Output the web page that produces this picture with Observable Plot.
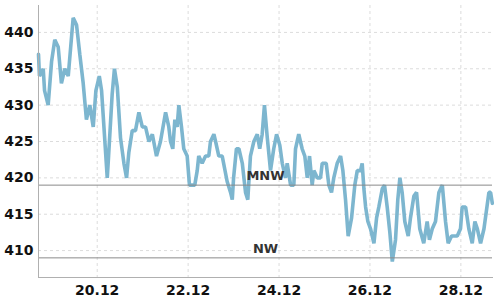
<!DOCTYPE html>
<html><head><meta charset="utf-8">
<script src="https://cdn.jsdelivr.net/npm/d3@7"></script>
<script src="https://cdn.jsdelivr.net/npm/@observablehq/plot@0.6"></script>
<style>
body{margin:0;background:#fff;}
#chart svg{display:block;font-family:"DejaVu Sans",sans-serif;}
</style>
</head><body><div id="chart"></div>
<script>
// Water level series: hours since 18.12 00:00 (UTC) and level in cm
const startDate = "2023-12-18T00:00:00Z";
const hours = [17,17.5,19.5,20.2,22.1,23.9,25.6,27.4,29.1,30.9,32.7,35.3,37.1,38.8,40.6,42.3,44.1,45.9,47.3,49.1,50.3,
  53.3,54.0,55.9,57.1,58.6,60.3,62.1,63.5,64.7,66.5,68.2,70.0,71.8,73.5,75.3,77.1,79.3,81.4,84.1,85.8,86.7,87.9,89.0,90.2,91.1,92.5,93.7,95.5,
  96.7,99.5,100.8,101.6,103.4,105.2,106.9,107.8,109.6,110.5,112.2,114.0,116.6,118.4,119.3,120.0,121.5,122.8,124.6,126.3,127.5,128.9,
  130.7,132.5,133.8,135.1,136.3,137.8,139.5,141.2,142.7,144.4,145.7,147.4,148.3,150.1,151.8,152.7,154.4,156.2,157.6,158.9,160.1,161.5,
  162.4,164.2,165.9,166.8,168.9,170.3,171.7,172.9,174.7,176.5,177.7,179.1,180.5,182.3,184.0,185.3,187.0,187.9,188.8,189.7,190.9,192.3,
  194.1,195.5,196.7,198.5,199.7,201.1,202.5,203.8,205.5,206.7,207.8,209.0,210.4,212.2,213.4,215.2,216.6,218.3,220.4,222.2,223.4,224.9,
  226.6,228.4,230.2,231.9,233.3,235.1,238.1,239.8,240.7,242.5,244.2,246.0,247.4,248.7,250.4,252.2,254.8,255.7,256.6];
const levels = [437,434,435,432,430,436,439,438,433,435,434,442,441,437,433,428,430,427,432,434,432,
  420,423,431.5,435,432.5,425.5,422,420,423.5,426.5,426.5,429,427,427,425,426,423,425,429,427,425,424,428,427,430,427,424,423,
  419,419,421,423,422,423,423,425,426,425,423,423,419.5,418,417,420,424,424,422,418,417,423,
  425,426,424,426,430,425.5,421,424,426,424.5,422,420,422,419,419,424,426,424,423,420,423,419,
  421,420,420,422,422,419,418,420,422,423,421,417,412,414.5,419,421,421,422,418.5,416,414,413,
  411,414.5,416,418.5,419,416,412.5,408.5,411.5,417,420,418,414,412,414.5,417.5,418,413,411,414,411.5,413,
  414,418,419,414,411,412,412,413,416,416,413,411,414,413,411,413,418,418,416.5];

const xTickLabels = ["2023-12-20","2023-12-22","2023-12-24","2023-12-26","2023-12-28"];
const yTickLabels = [410,415,420,425,430,435,440];
const refNames = ["MNW","NW"];
const refValues = [419,409];
const xDomainHours = [17, 256.7];
const yDomain = [406.3, 443.7];

const t0 = Date.parse(startDate);
const toDate = h => new Date(t0 + h * 3600e3);
const data = hours.map((h, i) => ({date: toDate(h), level: levels[i]}));
const refs = refNames.map((n, i) => ({name: n, value: refValues[i]}));
const xTicks = xTickLabels.map(s => new Date(s + "T00:00:00Z"));

const chart = Plot.plot({
  width: 500,
  height: 300,
  marginLeft: 38,
  marginRight: 8,
  marginTop: 5,
  marginBottom: 23,
  style: {fontFamily: "DejaVu Sans", background: "#fff"},
  x: {type: "utc", domain: xDomainHours.map(toDate)},
  y: {domain: yDomain},
  marks: [
    Plot.gridY(yTickLabels, {stroke: "#dcdcdc", strokeOpacity: 1, strokeDasharray: "3,3"}),
    Plot.gridX(xTicks, {stroke: "#dcdcdc", strokeOpacity: 1, strokeDasharray: "3,3"}),
    Plot.line(data, {x: "date", y: "level", stroke: "#7db6cf", strokeWidth: 3.6, strokeLinejoin: "miter"}),
    Plot.ruleY(refs, {y: "value", stroke: "#8a8a8a", strokeWidth: 1}),
    Plot.text(refs, {y: "value", text: "name", frameAnchor: "middle", dy: -9, fontSize: 13, fontWeight: "bold", fill: "#333"}),
    Plot.frame({anchor: "left", stroke: "#b0b0b0"}),
    Plot.frame({anchor: "bottom", stroke: "#b0b0b0"}),
    Plot.axisY(yTickLabels, {tickSize: 0, tickPadding: 5, fontSize: 14, fontWeight: "bold", fill: "#111"}),
    Plot.axisX(xTicks, {tickSize: 0, tickPadding: 8, fontSize: 14, fontWeight: "bold", fill: "#111", tickFormat: d3.utcFormat("%d.%m")})
  ]
});
document.getElementById("chart").appendChild(chart);
</script>
</body></html>
